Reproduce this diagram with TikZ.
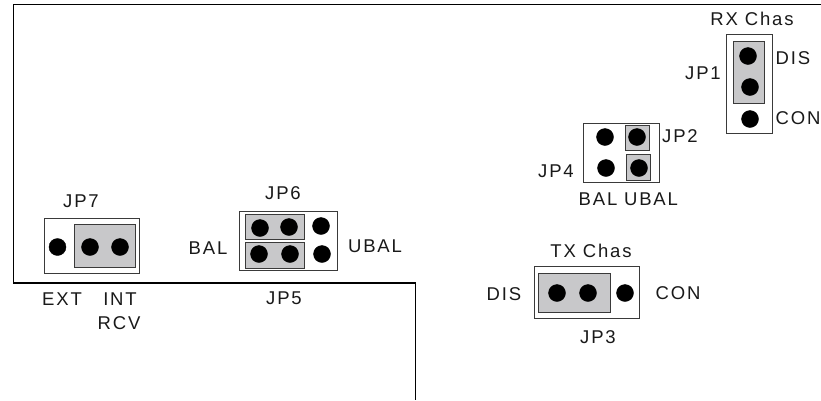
\documentclass[tikz,border=0pt]{standalone}
\usepackage{fontspec}
\setmainfont[LetterSpace=10]{Liberation Sans}
\definecolor{jumpergray}{HTML}{C8C8CA}
\definecolor{edgegray}{HTML}{3A3A3A}
\tikzset{
    pin/.style={circle,draw=black,fill=black,inner sep=0pt,minimum size=17pt},
    label/.style={inner sep=0pt,font=\fontsize{18.5}{22}\selectfont,text=black!90},
    header/.style={draw=edgegray,fill=white,line width=0.9pt},
    jumper/.style={draw=edgegray,fill=jumpergray,line width=1pt}
}

\begin{document}
\begin{tikzpicture}[x=1pt,y=-1pt]
        \useasboundingbox (0,0) rectangle (821,400);

        % Board outline
        \coordinate (board_a) at (821,4.5);
        \coordinate (board_b) at (13.5,4.5);
        \coordinate (board_c) at (13.5,283);
        \coordinate (board_d) at (415.5,283);
        \coordinate (board_e) at (415.5,400);
        \draw[black,line width=1.2pt] (board_a) -- (board_b) -- (board_c) -- (board_d) -- (board_e);

        % JP1
        \draw[header] (726,34) rectangle (772,133);
        \draw[jumper] (733,41) rectangle (764,103);
        \node[pin] (jp1_a) at (748,56) {};
        \node[pin] (jp1_b) at (750,87) {};
        \node[pin] (jp1_c) at (750,119) {};
        \node[label] (rxchas) at (752,19) {RX Chas};
        \node[label] (jp1) at (703,73) {JP1};
        \node[label] (jp1_dis) at (793,58) {DIS};
        \node[label] (jp1_con) at (798,118) {CON};

        % JP2, JP4
        \draw[header] (583,123) rectangle (659,182);
        \draw[jumper] (625,125) rectangle (649,150);
        \draw[jumper] (626,154) rectangle (650,180);
        \node[pin] (jp2_a) at (605,137) {};
        \node[pin] (jp2_b) at (637,137) {};
        \node[pin] (jp4_a) at (606,168) {};
        \node[pin] (jp4_b) at (639,168) {};
        \node[label] (jp2) at (680,136) {JP2};
        \node[label] (jp4) at (556,171) {JP4};
        \node[label] (jp2_bal) at (598,199) {BAL};
        \node[label] (jp2_ubal) at (651,199) {UBAL};

        % JP3
        \draw[header] (534,266) rectangle (639,318);
        \draw[jumper] (538,273) rectangle (610,312);
        \node[pin] (jp3_a) at (557,293) {};
        \node[pin] (jp3_b) at (588,293) {};
        \node[pin] (jp3_c) at (625,293) {};
        \node[label] (txchas) at (591,251) {TX Chas};
        \node[label] (jp3) at (598,337) {JP3};
        \node[label] (jp3_dis) at (504,294) {DIS};
        \node[label] (jp3_con) at (678,293) {CON};

        % JP5, JP6
        \draw[header] (239,211) rectangle (337,270);
        \draw[jumper] (245,214) rectangle (304,239);
        \draw[jumper] (245,242) rectangle (304,268);
        \node[pin] (jp6_a) at (260,228) {};
        \node[pin] (jp6_b) at (289,227) {};
        \node[pin] (jp6_c) at (321,226) {};
        \node[pin] (jp5_a) at (259,254) {};
        \node[pin] (jp5_b) at (290,254) {};
        \node[pin] (jp5_c) at (322,254) {};
        \node[label] (jp6) at (283,193) {JP6};
        \node[label] (jp5) at (284,298) {JP5};
        \node[label] (jp5_bal) at (208,248) {BAL};
        \node[label] (jp5_ubal) at (375,246) {UBAL};

        % JP7
        \draw[header] (44,218) rectangle (139,273);
        \draw[jumper] (74,224) rectangle (135,267);
        \node[pin] (jp7_a) at (57.5,247) {};
        \node[pin] (jp7_b) at (90,247) {};
        \node[pin] (jp7_c) at (120,247) {};
        \node[label] (jp7) at (81,201) {JP7};
        \node[label] (jp7_ext) at (62,299) {EXT};
        \node[label] (jp7_int) at (120,299) {INT};
        \node[label] (jp7_rcv) at (119,323) {RCV};
    \end{tikzpicture}
\end{document}
